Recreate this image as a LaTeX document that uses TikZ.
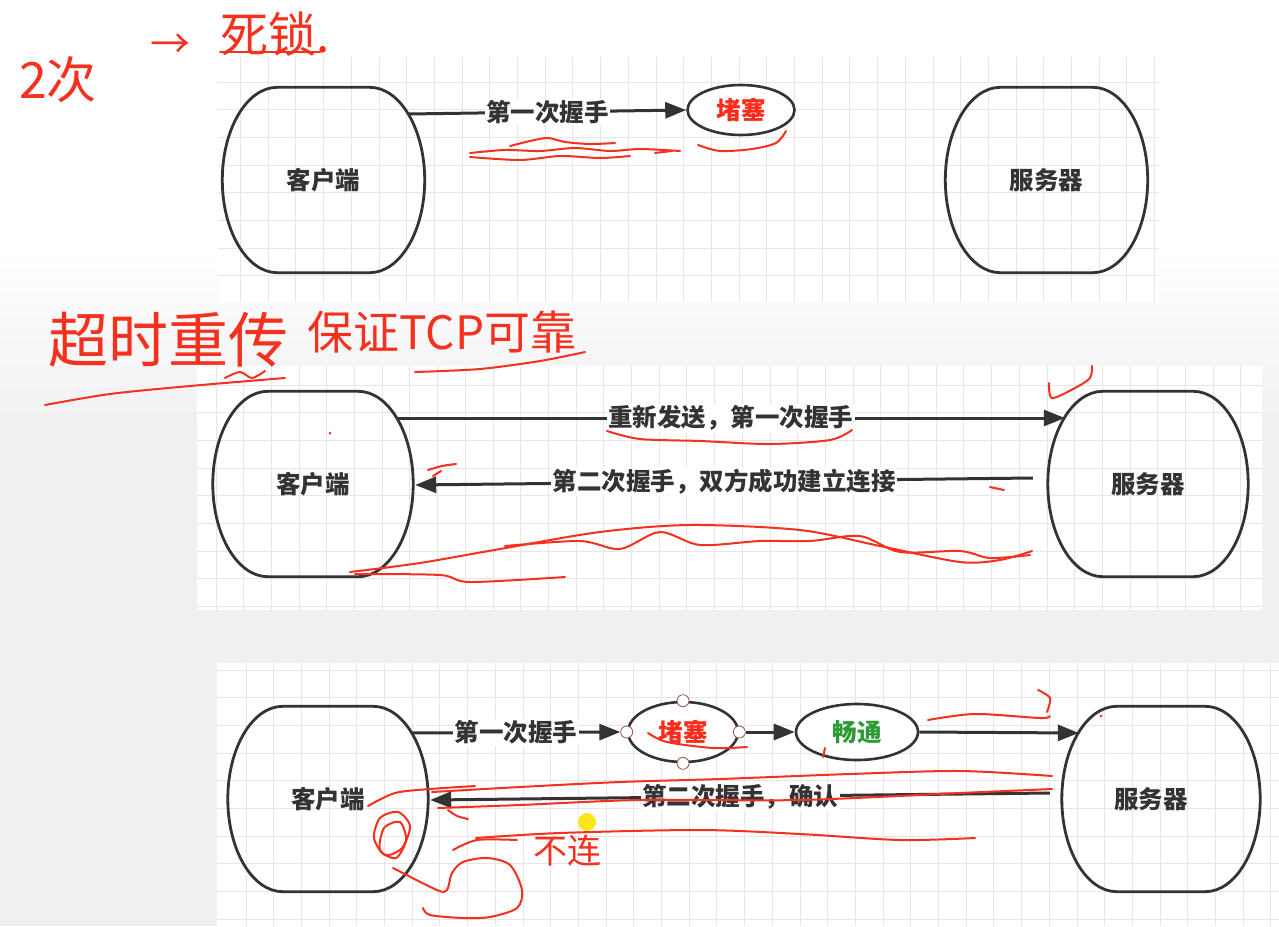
\documentclass[tikz,border=0pt]{standalone}
\usepackage{fontspec}
\newfontfamily\cjk{Noto Sans CJK SC}
\usetikzlibrary{arrows.meta,calc,shapes.geometric}
\definecolor{bgcol}{HTML}{F0F0F0}
\definecolor{gridcol}{HTML}{E6E6E6}
\definecolor{ln}{HTML}{333333}
\definecolor{inkred}{HTML}{F5301E}
\definecolor{blockred}{HTML}{FF2A1A}
\definecolor{okgreen}{HTML}{2E9A35}
\definecolor{handle}{HTML}{A0524A}
\tikzset{
  gridline/.style={draw=gridcol, line width=1pt},
  box/.style={rectangle, minimum width=#1, minimum height=185pt, inner sep=0pt,
    font=\cjk\bfseries\fontsize{24.5}{29}\selectfont, text=ln},
  box/.default=202pt,
  oval/.style={ellipse, draw=ln, line width=2.6pt, fill=white, inner sep=0pt,
    font=\cjk\bfseries\fontsize{24.5}{29}\selectfont},
  outline/.style={draw=ln, line width=2.8pt},
  conn/.style={draw=ln, line width=3pt, -{Triangle[length=21pt,width=16pt]}},
  lbl/.style={fill=white, inner sep=1.5pt, font=\cjk\bfseries\fontsize{24.5}{29}\selectfont, text=ln},
  redink/.style={draw=inkred, line width=2pt, line cap=round, line join=round},
  hand/.style={text=inkred, inner sep=0pt},
  hnd/.style={circle, draw=handle, fill=white, line width=0.8pt, minimum size=12pt, inner sep=0pt},
}
\newcommand\gridpanel[6]{%
  \fill[white] (#1,#2) rectangle (#3,#4);
  \begin{scope}
    \clip (#1,#2) rectangle (#3,#4);
    \foreach \i in {0,...,40}{\draw[gridline] ({#5+27.7*\i},#2) -- ({#5+27.7*\i},#4);}
    \foreach \j in {0,...,12}{\draw[gridline] (#1,{#6+27.7*\j}) -- (#3,{#6+27.7*\j});}
  \end{scope}}
\newcommand\drumshape[1]{%
  \draw[outline] ($(#1.north west)+(55,0)$) -- ($(#1.north east)+(-55,0)$)
    .. controls +(30.4,0) and +(0,-51) .. (#1.east)
    .. controls +(0,51) and +(30.4,0) .. ($(#1.south east)+(-55,0)$)
    -- ($(#1.south west)+(55,0)$)
    .. controls +(-30.4,0) and +(0,51) .. (#1.west)
    .. controls +(0,-51) and +(-30.4,0) .. cycle;}
\begin{document}
\begin{tikzpicture}[x=1pt,y=-1pt]
\useasboundingbox (0,0) rectangle (1279,926);
% background
\fill[bgcol] (0,0) rectangle (1279,926);
\fill[white] (0,0) rectangle (1279,250);
\shade[top color=white, bottom color=bgcol] (0,250) rectangle (1279,430);
% panels
\gridpanel{218}{57}{1158}{302}{240.5}{82}
\gridpanel{197}{366}{1262}{610}{216}{385}
\gridpanel{217}{663}{1279}{926}{246}{670}

% ---------- panel 1 ----------
\node[box] (c1) at (323.5,180) {客户端};
\drumshape{c1}
\node[box] (s1) at (1046.5,180) {服务器};
\drumshape{s1}
\node[oval, minimum width=107pt, minimum height=50pt, text=blockred] (b1) at (741,110) {堵塞};
\draw[conn] ($(c1.east)+(-16,-66)$) -- node[lbl] (l1) {第一次握手} (b1.west);

% ---------- panel 2 ----------
\node[box=200pt] (c2) at (313,484) {客户端};
\drumshape{c2}
\node[box=200pt] (s2) at (1148,484) {服务器};
\drumshape{s2}
\draw[conn] ($(c2.east)+(-17,-66)$) -- node[lbl] (l2) {重新发送，第一次握手} ($(s2.west)+(17,-66)$);
\draw[conn] ($(s2.west)+(-15,-6)$) -- node[lbl] (l3) {第二次握手，双方成功建立连接} ($(c2.east)+(2,1)$);

% ---------- panel 3 ----------
\node[box=200pt] (c3) at (328,799) {客户端};
\drumshape{c3}
\node[box=198pt, text width=198pt, align=center, xshift=0pt] (s3) at (1161,799) {\hspace*{-20pt}服务器};
\drumshape{s3}
\node[oval, minimum width=110pt, minimum height=60pt, text=blockred] (e1) at (683,732) {堵塞};
\node[oval, minimum width=122pt, minimum height=56pt, text=okgreen] (e2) at (857,732) {畅通};
\node[hnd] (h1) at (e1.north) {};
\node[hnd] (h2) at (e1.south) {};
\node[hnd] (h3) at (e1.west) {};
\node[hnd] (h4) at (e1.east) {};
\draw[conn] ($(c3.east)+(-17,-66)$) -- node[lbl] (l4) {第一次握手} (h3.west);
\draw[conn] (h4.east) -- (e2.west);
\draw[conn] (e2.east) -- ($(s3.west)+(17,-66)$);
\draw[conn] ($(s3.west)+(-12,-6)$) -- node[lbl] (l5) {第二次握手，确认} ($(c3.east)+(2,1)$);

% ---------- handwriting ----------
\node[hand, font=\cjk\fontsize{50}{56}\selectfont] (w1) at (58,80) {2次};
\node[hand, font=\cjk\fontsize{40}{46}\selectfont] (w2) at (170,46) {→};
\node[hand, font=\cjk\fontsize{48}{54}\selectfont] (w3) at (275,34) {死锁.};
\draw[redink] (w3.south west) ++(0,-4) -- ++(100,0);
\node[hand, font=\cjk\fontsize{60}{66}\selectfont] (w4) at (168,340) {超时重传};
\node[hand, font=\cjk\fontsize{46}{52}\selectfont] (w5) at (442,332) {保证TCP可靠};
\node[hand, font=\cjk\fontsize{34}{40}\selectfont] (w6) at (567,851) {不连};

% underlines etc. panel 1
\draw[redink] plot[smooth] coordinates {(470,153) (505,150) (540,151) (575,148) (610,151) (640,149) (680,151)};
\draw[redink] plot[smooth] coordinates {(470,157) (520,160) (560,156) (600,158) (630,156)};
\draw[redink] plot[smooth] coordinates {(510,146) (530,141) (548,138) (565,142) (590,144) (615,143)};
\draw[redink] plot[smooth] coordinates {(698,145) (720,151) (752,149) (776,143) (786,131)};
\draw[redink] (655,153) -- (672,151);
% panel 2 top handwriting underlines
\draw[redink] plot[smooth] coordinates {(45,405) (110,394) (190,386) (285,378)};
\draw[redink] plot[smooth] coordinates {(225,378) (240,372) (252,378) (265,371)};
\draw[redink] plot[smooth] coordinates {(415,372) (480,369) (540,361) (585,352)};
% panel 2 marks
\draw[redink] plot[smooth] coordinates {(607,431) (640,439) (700,441) (770,444) (830,440) (852,430)};
\draw[redink] plot[smooth] coordinates {(1049,383) (1052,398) (1075,388) (1090,378) (1092,366)};
\draw[redink] plot[smooth] coordinates {(428,470) (442,466) (456,464)};
\draw[redink] (433,476) -- (441,471);
\draw[redink] (990,487) -- (1004,490);
\fill[inkred] (330,433) circle (1.5pt);
\draw[redink] plot[smooth] coordinates {(350,572) (420,563) (500,549) (600,532) (690,525) (800,530) (880,546) (960,562) (1000,560) (1032,551)};
\draw[redink] plot[smooth] coordinates {(505,546) (580,541) (620,549) (660,532) (700,545) (760,541) (810,541) (860,536) (900,552) (960,551) (990,558) (1030,555)};
\draw[redink] plot[smooth] coordinates {(355,574) (440,575) (470,582) (565,577)};
% panel 3 marks
\draw[redink] plot[smooth] coordinates {(648,733) (667,742) (713,748) (747,747)};
\draw[redink] (825,748) -- (823,757);
\draw[redink] plot[smooth] coordinates {(928,720) (975,714) (1040,718) (1050,716)};
\draw[redink] plot[smooth] coordinates {(1038,690) (1050,698) (1047,712)};
\fill[inkred] (1101,716) circle (1.5pt);
\draw[redink] plot[smooth] coordinates {(432,792) (520,787) (620,782) (720,779) (850,774) (960,771) (1052,776)};
\draw[redink] plot[smooth] coordinates {(438,808) (520,805) (640,800) (800,800) (960,793) (1052,789)};
\draw[redink] plot[smooth] coordinates {(476,838) (560,833) (700,830) (800,834) (900,840) (975,838)};
\draw[redink] plot[smooth] coordinates {(368,806) (395,793) (430,789) (475,786)};
\draw[redink] plot[smooth] coordinates {(448,810) (457,816) (468,819)};
\draw[redink] plot[smooth cycle] coordinates {(380,818) (398,812) (410,826) (402,848) (385,855) (374,838)};
\draw[redink] plot[smooth cycle] coordinates {(384,828) (400,822) (406,840) (396,858) (380,850)};
\draw[redink] plot[smooth] coordinates {(393,868) (437,890) (447,890) (452,873) (463,862) (487,858) (510,865) (522,890) (517,908) (490,917) (463,918) (430,915) (423,908)};
\draw[redink] plot[smooth] coordinates {(453,850) (477,840) (517,840)};
% cursor highlight
\fill[yellow!85!orange, opacity=0.9] (587,822) circle (9pt);
\end{tikzpicture}
\end{document}
